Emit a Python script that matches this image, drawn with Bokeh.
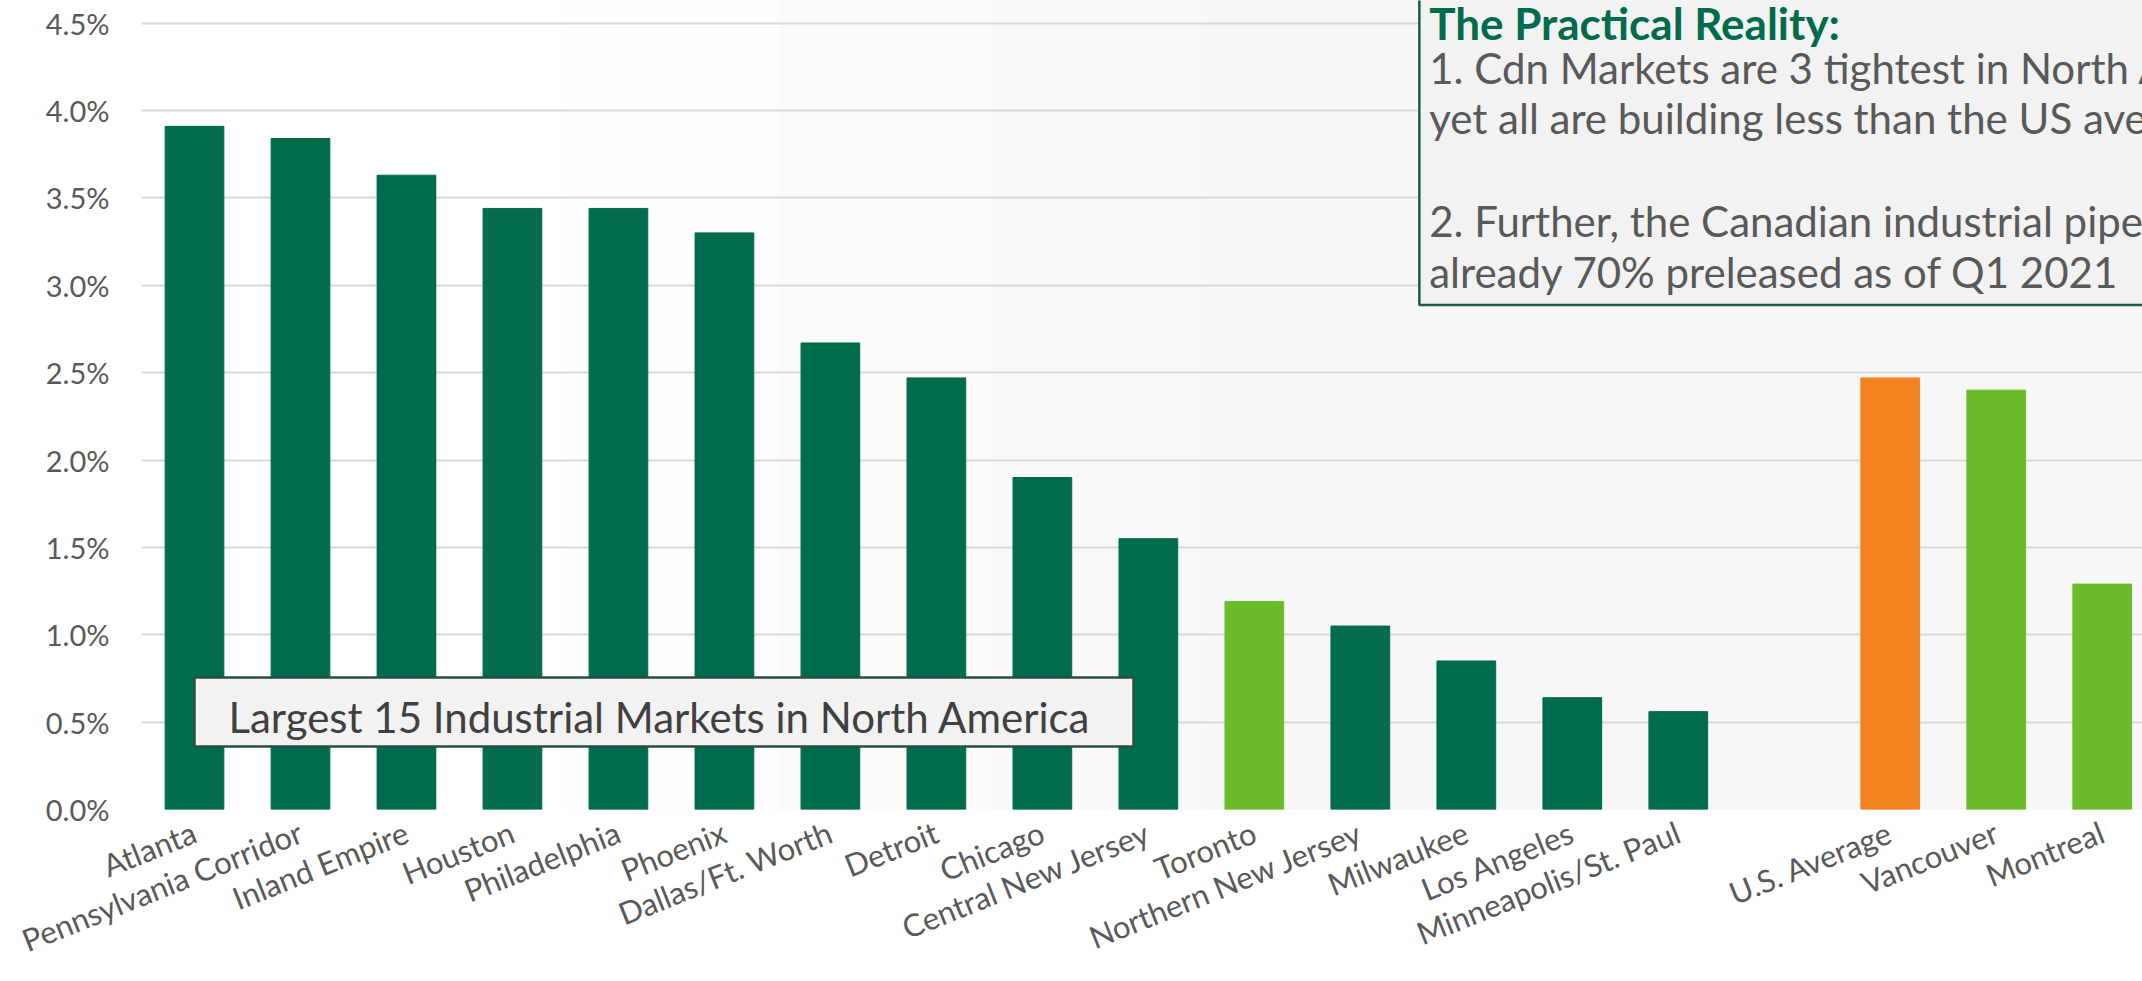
from bokeh.plotting import figure
from bokeh.models import Range1d, FixedTicker, PrintfTickFormatter, ColumnDataSource
from bokeh.core.properties import value
from bokeh.embed import file_html
from bokeh.resources import INLINE

# ---- data ----
markets = ["Atlanta", "Pennsylvania Corridor", "Inland Empire", "Houston", "Philadelphia",
           "Phoenix", "Dallas/Ft. Worth", "Detroit", "Chicago", "Central New Jersey",
           "Toronto", "Northern New Jersey", "Milwaukee", "Los Angeles", "Minneapolis/St. Paul"]
market_vals = [3.91, 3.84, 3.63, 3.44, 3.44, 3.30, 2.67, 2.47, 1.90, 1.55,
               1.19, 1.05, 0.85, 0.64, 0.56]
market_kind = ["US", "US", "US", "US", "US", "US", "US", "US", "US", "US",
               "CA", "US", "US", "US", "US"]
compare_names = ["U.S. Average", "Vancouver", "Montreal"]
compare_vals = [2.47, 2.40, 1.29]
compare_kind = ["AVG", "CA", "CA"]
y_ticks = [0.0, 0.5, 1.0, 1.5, 2.0, 2.5, 3.0, 3.5, 4.0, 4.5]

box1_text = "Largest 15 Industrial Markets in North America"
box2_title = "The Practical Reality:"
box2_lines = ["1. Cdn Markets are 3 tightest in North America,",
              "yet all are building less than the US average",
              "2. Further, the Canadian industrial pipeline is",
              "already 70% preleased as of Q1 2021"]

COLORS = {"US": "#006B4D", "CA": "#6ABD28", "AVG": "#F58220"}
TXT = "#595959"
FONT = "Lato"

names = markets + compare_names
vals = market_vals + compare_vals
kinds = market_kind + compare_kind
xs = list(range(len(markets))) + [len(markets) + 1 + i for i in range(len(compare_names))]

src = ColumnDataSource(dict(x=xs, top=vals, name=names, color=[COLORS[k] for k in kinds]))

p = figure(width=2142, height=981, output_backend="svg", toolbar_location=None,
           x_range=Range1d(-0.5, 18.38), y_range=Range1d(0, 4.63),
           min_border_left=141, min_border_right=0, min_border_top=0, min_border_bottom=172)
p.outline_line_color = None
p.background_fill_color = "white"
p.border_fill_color = "white"

# faint background tint on the right side (decorative)
p.quad(left=[3.5, 5.5, 7.5, 9.5], right=[5.5, 7.5, 9.5, 20.0],
       bottom=[-1, -1, -1, -1], top=[5, 5, 5, 5],
       fill_color=["#fefefe", "#fcfbfc", "#faf9fa", "#f7f7f8"], line_color=None, level="image")

p.vbar(x="x", top="top", width=0.554, source=src, fill_color="color", line_color="color")

# annotation box 1
p.quad(left=[0.0], right=[8.86], bottom=[0.36], top=[0.756],
       fill_color="#F2F2F2", line_color="#2A4F40", line_width=2.5)
p.text(x=[0.32], y=[0.53], text=[box1_text], text_font=value(FONT), text_font_size="42px",
       text_color="#404040", text_baseline="alphabetic", text_align="left")

# annotation box 2
p.quad(left=[11.557], right=[20.0], bottom=[2.887], top=[5.0],
       fill_color="#F2F2F2", line_color="#1E5B44", line_width=2.5)
p.text(x=[11.65], y=[4.50], text=[box2_title], text_font=value(FONT), text_font_size="44px",
       text_font_style="bold", text_color="#006B4D", text_baseline="alphabetic", text_align="left")
p.text(x=[11.65, 11.65, 11.65, 11.65], y=[4.245, 3.96, 3.37, 3.075], text=box2_lines,
       text_font=value(FONT), text_font_size="42px", text_color=TXT,
       text_baseline="alphabetic", text_align="left")

# axes
p.xaxis.ticker = FixedTicker(ticks=xs)
p.xaxis.major_label_overrides = {x: n for x, n in zip(xs, names)}
p.xaxis.major_label_orientation = 0.38
p.xaxis.major_label_text_font = FONT
p.xaxis.major_label_text_font_size = "31px"
p.xaxis.major_label_text_color = TXT
p.xaxis.axis_line_color = None
p.xaxis.major_tick_line_color = None
p.xaxis.minor_tick_line_color = None
p.xaxis.major_label_standoff = 15
p.xgrid.visible = False

p.yaxis.ticker = FixedTicker(ticks=y_ticks)
p.yaxis.formatter = PrintfTickFormatter(format="%.1f%%")
p.yaxis.major_label_text_font = FONT
p.yaxis.major_label_text_font_size = "29px"
p.yaxis.major_label_text_color = TXT
p.yaxis.axis_line_color = None
p.yaxis.major_tick_line_color = None
p.yaxis.minor_tick_line_color = None
p.yaxis.major_label_standoff = 26
p.ygrid.ticker = FixedTicker(ticks=y_ticks)
p.ygrid.grid_line_color = "#D9D9D9"
p.ygrid.grid_line_width = 2

open("out.html", "w").write(file_html(p, INLINE))
